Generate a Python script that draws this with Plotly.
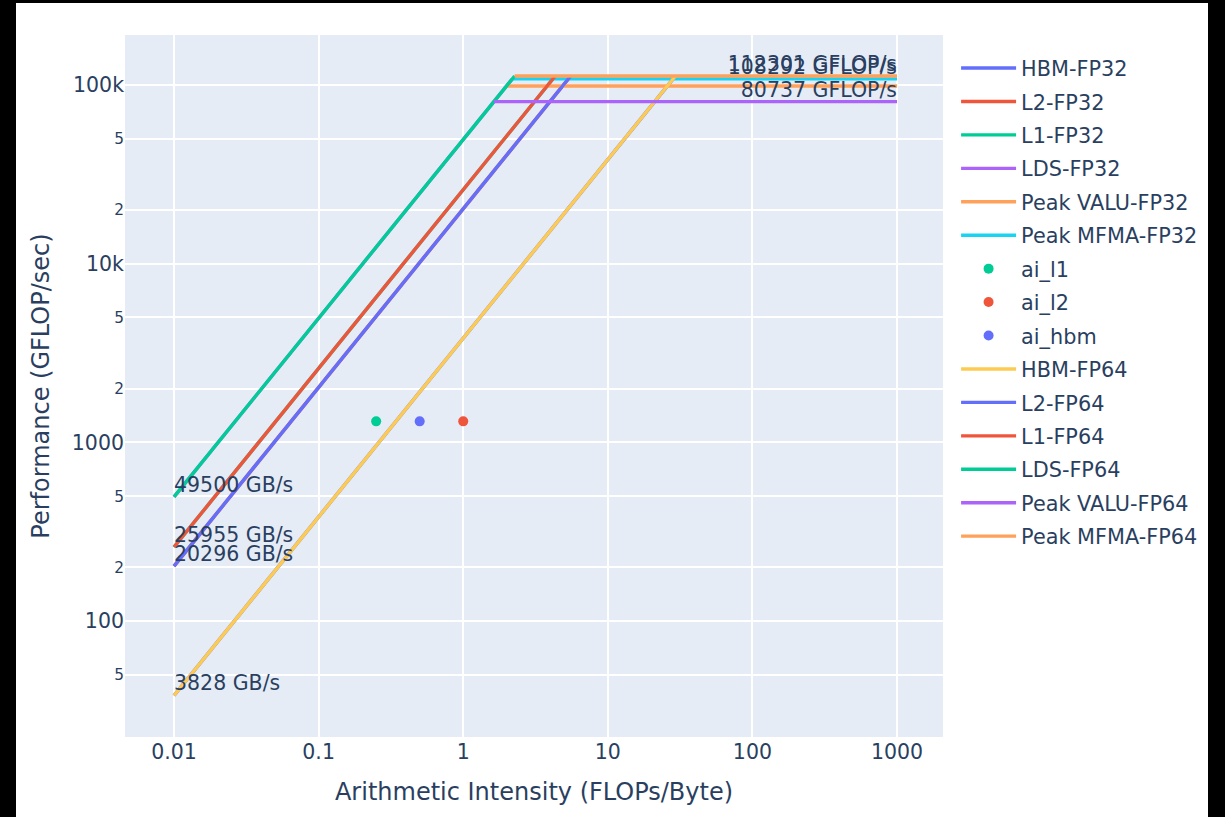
import plotly.graph_objects as go

# ---------------- data ----------------
cache_levels = ["HBM", "L2", "L1", "LDS"]
bandwidth_gbs = [3828, 20296, 25955, 49500]          # GB/s (same for FP32 / FP64)

peak_valu_fp32 = 98700
peak_mfma_fp32 = 108292
peak_valu_fp64 = 80737
peak_mfma_fp64 = 112301

ai_names = ["ai_l1", "ai_l2", "ai_hbm"]
ai_x = [0.25, 1.0, 0.5]                 # FLOPs/Byte
ai_y = [1311, 1311, 1311]               # GFLOP/s
ai_colors = ["#00CC96", "#EF553B", "#636EFA"]

XMIN, XMAX = 0.01, 1000

fp32_bw_colors = ["#636EFA", "#EF553B", "#00CC96", "#AB63FA"]
fp64_bw_colors = ["#FECB52", "#636EFA", "#EF553B", "#00CC96"]

FONT = "DejaVu Sans"
FS = 20.5
LW = 3.4

fig = go.Figure()
gid = [0]


def grp():
    gid[0] += 1
    return "g%d" % gid[0]


def add_roof(dtype, valu, mfma, bw_colors, valu_color, mfma_color, label_bw, label_valu):
    for lvl, bw, col in zip(cache_levels, bandwidth_gbs, bw_colors):
        fig.add_trace(go.Scatter(
            x=[XMIN, mfma / bw], y=[XMIN * bw, mfma],
            name="%s-%s" % (lvl, dtype),
            mode="lines+text" if label_bw else "lines",
            text=["%d GB/s" % bw, ""] if label_bw else None,
            textposition="top right",
            textfont=dict(family=FONT, size=FS, color="#2a3f5f"),
            line=dict(color=col, width=LW), legendgroup=grp()))
    top_bw = max(bandwidth_gbs)
    fig.add_trace(go.Scatter(
        x=[valu / top_bw, XMAX], y=[valu, valu],
        name="Peak VALU-%s" % dtype,
        mode="lines+text" if label_valu else "lines",
        text=["", "%d GFLOP/s" % valu] if label_valu else None,
        textposition="top left",
        textfont=dict(family=FONT, size=FS, color="#2a3f5f"),
        line=dict(color=valu_color, width=LW), legendgroup=grp()))
    fig.add_trace(go.Scatter(
        x=[mfma / top_bw, XMAX], y=[mfma, mfma],
        name="Peak MFMA-%s" % dtype, mode="lines+text",
        text=["", "%d GFLOP/s" % mfma], textposition="top left",
        textfont=dict(family=FONT, size=FS, color="#2a3f5f"),
        line=dict(color=mfma_color, width=LW), legendgroup=grp()))


add_roof("FP32", peak_valu_fp32, peak_mfma_fp32, fp32_bw_colors, "#FFA15A", "#19D3F3", False, False)

for n, xv, yv, c in zip(ai_names, ai_x, ai_y, ai_colors):
    fig.add_trace(go.Scatter(x=[xv], y=[yv], name=n, mode="markers",
                             marker=dict(color=c, size=10), legendgroup=grp()))

add_roof("FP64", peak_valu_fp64, peak_mfma_fp64, fp64_bw_colors, "#AB63FA", "#FFA15A", True, True)

fig.update_layout(
    width=1192, height=814,
    margin=dict(l=109, r=265, t=32, b=80, autoexpand=False),
    font=dict(family=FONT, size=FS, color="#2a3f5f"),
    paper_bgcolor="white", plot_bgcolor="#E5ECF6",
    legend=dict(font=dict(family=FONT, size=20.8), itemwidth=55,
                tracegroupgap=3.4, x=1.016, xanchor="left", y=0.9815, yanchor="top"),
    xaxis=dict(type="log", range=[-2.339, 3.318], dtick=1,
               gridcolor="white", gridwidth=1.7, zeroline=False,
               title=dict(text="Arithmetic Intensity (FLOPs/Byte)", font=dict(size=24),
                          standoff=20)),
    yaxis=dict(type="log", range=[1.351, 5.28], dtick="D2",
               gridcolor="white", gridwidth=1.7, zeroline=False,
               title=dict(text="Performance (GFLOP/sec)", font=dict(size=24))),
)

fig.write_html(
    "out.html",
    post_script="document.body.style.background='black';"
                "document.body.style.margin='3px 0 0 16px';",
)
